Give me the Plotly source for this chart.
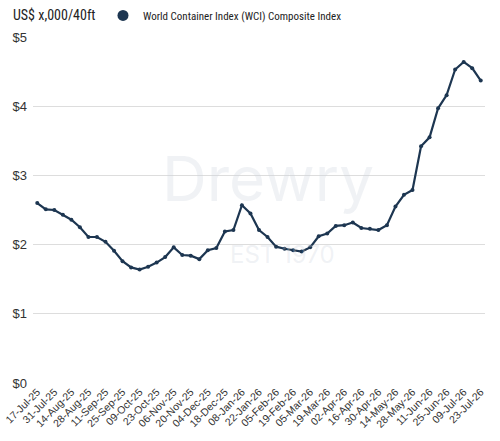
import plotly.graph_objects as go

dates = ["17-Jul-25","24-Jul-25","31-Jul-25","07-Aug-25","14-Aug-25","21-Aug-25","28-Aug-25","04-Sep-25",
         "11-Sep-25","18-Sep-25","25-Sep-25","02-Oct-25","09-Oct-25","16-Oct-25","23-Oct-25","30-Oct-25",
         "06-Nov-25","13-Nov-25","20-Nov-25","27-Nov-25","04-Dec-25","11-Dec-25","18-Dec-25","25-Dec-25",
         "08-Jan-26","15-Jan-26","22-Jan-26","29-Jan-26","05-Feb-26","12-Feb-26","19-Feb-26","26-Feb-26",
         "05-Mar-26","12-Mar-26","19-Mar-26","26-Mar-26","02-Apr-26","09-Apr-26","16-Apr-26","23-Apr-26",
         "30-Apr-26","07-May-26","14-May-26","21-May-26","28-May-26","04-Jun-26","11-Jun-26","18-Jun-26",
         "25-Jun-26","02-Jul-26","09-Jul-26","16-Jul-26","23-Jul-26"]
wci = [2.60, 2.51, 2.50, 2.43, 2.36, 2.25, 2.11, 2.11, 2.04, 1.91, 1.76, 1.67, 1.64, 1.68, 1.74, 1.82,
       1.96, 1.85, 1.84, 1.79, 1.92, 1.95, 2.19, 2.21, 2.57, 2.45, 2.21, 2.11, 1.97, 1.94, 1.92, 1.90,
       1.96, 2.12, 2.16, 2.27, 2.28, 2.32, 2.24, 2.23, 2.21, 2.28, 2.55, 2.72, 2.79, 3.42, 3.55, 3.97,
       4.16, 4.53, 4.64, 4.55, 4.37]
tick_labels = dates[::2]
y_ticks = [0, 1, 2, 3, 4, 5]
y_tick_text = ["$0", "$1", "$2", "$3", "$4", "$5"]
series_name = "World Container Index (WCI) Composite Index"
navy = "#1d3651"
fam = "Liberation Sans Narrow, Roboto Condensed, Roboto, sans-serif"
tickfam = "Liberation Sans, Arial, sans-serif"

fig = go.Figure()
fig.add_trace(go.Scatter(x=dates, y=wci, mode="lines+markers", showlegend=False,
                         line=dict(color=navy, width=2.2), marker=dict(color=navy, size=4)))
fig.add_trace(go.Scatter(x=[dates[0]], y=[None], mode="markers", name=series_name,
                         marker=dict(color=navy, size=11)))

fig.update_layout(
    width=500, height=441,
    margin=dict(l=33, r=15, t=37, b=58),
    paper_bgcolor="white", plot_bgcolor="white",
    font=dict(family=fam, color="#222"),
    showlegend=True,
    legend=dict(orientation="h", x=0.206, y=0.998, yref="container", xref="container",
                xanchor="left", yanchor="top", font=dict(size=11, color="#222", family=fam),
                itemsizing="trace", itemwidth=30, bgcolor="rgba(0,0,0,0)"),
    xaxis=dict(type="category", range=[-0.5, len(dates) - 0.5], tickmode="array",
               tickvals=tick_labels, ticktext=tick_labels,
               tickangle=-45, tickfont=dict(size=10.5, color="#333", family=tickfam), showgrid=False,
               showline=False, ticks="", zeroline=False, automargin=False),
    yaxis=dict(range=[0, 5.0], tickvals=y_ticks, ticktext=y_tick_text, showgrid=True,
               gridcolor="#dddddd", gridwidth=1, zeroline=False, showline=False,
               tickfont=dict(size=13, color="#333", family=tickfam), ticks="", ticklabelstandoff=5,
               automargin=False),
    annotations=[
        dict(text="US$ x,000/40ft", x=-0.049, y=1.064, xref="paper", yref="paper",
             showarrow=False, xanchor="left", yanchor="middle",
             font=dict(size=14, color="#222", family=fam)),
        dict(text="Drewry", x=0.52, y=0.59, xref="paper", yref="paper", showarrow=False,
             font=dict(size=62, color="rgba(205,212,222,0.3)", family="Inter, sans-serif")),
        dict(text="EST 1970", x=0.553, y=0.37, xref="paper", yref="paper", showarrow=False,
             font=dict(size=24, color="rgba(205,212,222,0.3)", family="Inter, sans-serif")),
    ],
)
fig.write_html("out.html")
